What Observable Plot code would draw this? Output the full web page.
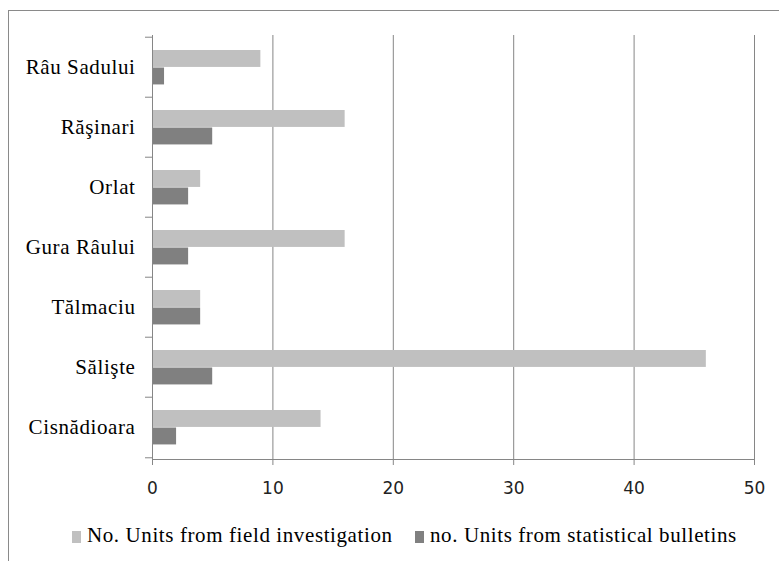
<!DOCTYPE html>
<html>
<head>
<meta charset="utf-8">
<script src="https://cdn.jsdelivr.net/npm/d3@7"></script>
<script src="https://cdn.jsdelivr.net/npm/@observablehq/plot@0.6"></script>
<style>
  html, body { margin: 0; padding: 0; background: #fff; overflow: hidden; }
  #wrap { position: relative; width: 779px; height: 561px; }
  #border { position: absolute; left: 8px; top: 10px; width: 900px; height: 700px;
            border: 1px solid #8a8a8a; box-sizing: border-box; }
  #chart { position: absolute; left: 0; top: 0; }
  #legend { position: absolute; left: 0; top: 522px; width: 779px; height: 28px;
            font-family: "Liberation Serif", "Times New Roman", Tinos, "DejaVu Serif", serif; font-size: 21px;
            letter-spacing: 0.6px; color: #000; }
  .item { position: absolute; top: 0; white-space: nowrap; line-height: 26px; }
  .sw { display: inline-block; width: 9px; height: 12px; margin-right: 6px; vertical-align: -1px; }
  #chart g[aria-label="y-axis tick label"] text {
    font-family: "Liberation Serif", "Times New Roman", Tinos, "DejaVu Serif", serif;
    font-size: 21px; letter-spacing: 0.6px; fill: #000;
  }
  #chart g[aria-label="x-axis tick label"] text {
    font-family: "DejaVu Sans", sans-serif; font-size: 17px; fill: #222;
  }
</style>
</head>
<body>
<div id="wrap">
  <div id="border"></div>
  <div id="chart"></div>
  <div id="legend"></div>
</div>
<script>
// Villages, listed top to bottom
const villages = ["Râu Sadului", "Răşinari", "Orlat", "Gura Râului", "Tălmaciu", "Sălişte", "Cisnădioara"];
// Number of units counted in the field
const fieldUnits = [9, 16, 4, 16, 4, 46, 14];
// Number of units reported in statistical bulletins
const bulletinUnits = [1, 5, 3, 3, 4, 5, 2];
const seriesNames = ["No. Units from field investigation", "no. Units from statistical bulletins"];
const seriesColors = ["#c0c0c0", "#808080"];
const xTicks = [0, 10, 20, 30, 40, 50];

const rows = villages.map((name, i) => ({name, field: fieldUnits[i], bulletin: bulletinUnits[i]}));

const W = 779, H = 510, mt = 35, mb = 51, ml = 152, mr = 25;
const band = (H - mt - mb) / villages.length;
const gridColor = "#868686";

const chart = Plot.plot({
  width: W,
  height: H,
  marginTop: mt,
  marginBottom: mb,
  marginLeft: ml,
  marginRight: mr,
  x: {domain: [0, 50]},
  y: {domain: villages, padding: 0},
  style: {background: "transparent"},
  marks: [
    // vertical gridlines
    Plot.ruleX(xTicks.filter(d => d > 0), {x: d => d, stroke: gridColor, strokeOpacity: 1}),
    // field investigation bars (upper bar of each pair)
    Plot.barX(rows, {x: "field", y: "name", fill: seriesColors[0],
      insetTop: 13, insetBottom: band - 30.5}),
    // statistical bulletin bars (lower bar of each pair)
    Plot.barX(rows, {x: "bulletin", y: "name", fill: seriesColors[1],
      insetTop: 30.5, insetBottom: band - 48}),
    // axis lines
    Plot.frame({anchor: "left", stroke: gridColor, strokeOpacity: 1}),
    Plot.frame({anchor: "bottom", stroke: gridColor, strokeOpacity: 1}),
    // category boundary ticks
    Plot.axisY({tickSize: 7, text: null, label: null, stroke: gridColor, strokeOpacity: 1, dy: -band / 2}),
    Plot.axisY({ticks: [villages[villages.length - 1]], tickSize: 7, text: null, label: null,
      stroke: gridColor, strokeOpacity: 1, dy: band / 2}),
    // category labels
    Plot.axisY({tickSize: 0, tickPadding: 17, label: null}),
    // value axis
    Plot.axisX({ticks: xTicks, tickSize: 6, tickPadding: 16, label: null,
      stroke: gridColor, strokeOpacity: 1})
  ]
});
document.getElementById("chart").appendChild(chart);

// legend below the chart
const legendX = [72, 415];
const legend = d3.select("#legend");
seriesNames.forEach((name, i) => {
  const item = legend.append("div").attr("class", "item").style("left", legendX[i] + "px");
  item.append("span").attr("class", "sw").style("background", seriesColors[i]);
  item.append("span").text(name);
});
</script>
</body>
</html>
